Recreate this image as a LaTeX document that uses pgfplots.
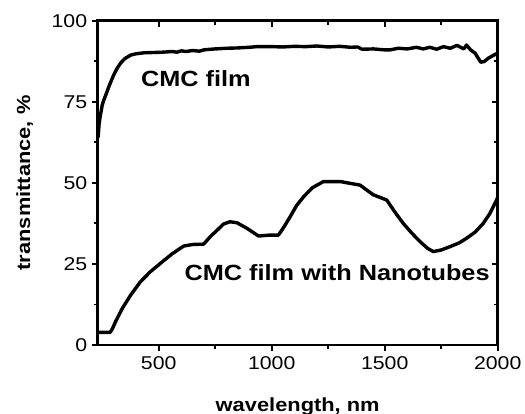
\documentclass[border=0pt]{standalone}
\usepackage{fontspec}
\setmainfont{Liberation Sans}[FakeStretch=1.15]
\usepackage{pgfplots}
\pgfplotsset{compat=1.18}

\begin{document}
\begin{tikzpicture}
\pgfplotsset{
  frame/.style={
    scale only axis, width=400pt, height=324.3pt,
    xmin=230, xmax=2000, ymin=0, ymax=100,
    xtick={500,1000,1500,2000}, ytick={0,25,50,75,100},
    minor x tick num=1, minor y tick num=1,
    major tick length=6pt, minor tick length=4pt,
    every tick/.style={black, line width=2pt},
    every minor tick/.style={black, line width=1.8pt},
    axis line style={line width=2.8pt},
    /pgf/number format/assume math mode=true,
    /pgf/number format/1000 sep={},
    tick label style={font=\fontsize{18.5}{20}\selectfont},
  }
}
\begin{axis}[frame,
    tick pos=left, tick align=outside,
    xticklabel style={yshift=-2pt},
    yticklabel style={xshift=-1pt},
    xlabel={\bfseries wavelength, nm},
    ylabel={\bfseries transmittance, \%},
    xlabel style={font=\fontsize{19}{21}\selectfont, at={(0.5,0)}, anchor=base, yshift=-66pt},
    ylabel style={font=\fontsize{19}{21}\selectfont, at={(0,0.5)}, anchor=center, yshift=73pt},
]
\addplot[black, line width=3.4pt, line join=round] coordinates {
(232,64)(236,68)(240,70)(245,72)(250,74)(257,75.5)(268,77.5)(279,79.6)
(290,81.5)(301,83.3)(315,85.2)(331,86.9)(350,88.3)(376,89.4)(400,89.8)
(434,90.1)(480,90.2)(520,90.3)(560,90.5)(580,90.3)(600,90.7)(620,90.5)
(650,90.8)(680,90.6)(700,91.0)(713,91.1)(750,91.3)(800,91.5)(850,91.6)
(900,91.8)(934,92.0)(1000,92.0)(1050,91.9)(1100,92.1)(1150,92.0)(1200,92.2)
(1250,91.9)(1300,92.1)(1350,91.8)(1380,91.9)(1400,91.2)(1450,91.3)(1500,91.0)
(1523,91.0)(1560,91.5)(1600,91.3)(1640,91.8)(1670,91.3)(1700,91.8)(1730,91.2)
(1760,92.0)(1790,91.5)(1820,92.4)(1850,91.3)(1862,92.5)(1880,91.0)(1900,90.0)
(1915,88.3)(1925,87.2)(1940,87.4)(1960,88.5)(1980,89.3)(2000,90.0)
};
\addplot[black, line width=3.4pt, line join=round] coordinates {
(232,3.9)(285,3.9)(295,5.0)(309,7.2)(339,11.3)(376,15.4)(419,19.5)(463,22.6)
(508,25.2)(559,28.1)(610,30.5)(650,31.0)(699,31.1)(728,33.4)(760,35.5)
(787,37.3)(815,38.0)(846,37.7)(890,36.0)(942,33.6)(993,33.9)(1030,33.9)
(1055,36.5)(1082,39.6)(1110,43.0)(1141,45.7)(1180,48.5)(1229,50.4)(1303,50.4)
(1391,49.3)(1420,47.8)(1450,46.3)(1509,44.7)(1545,41.0)(1582,37.5)(1620,34.5)
(1656,31.9)(1690,29.8)(1715,28.8)(1750,29.3)(1788,30.3)(1830,31.5)(1862,32.9)
(1900,34.8)(1936,37.5)(1965,40.5)(1988,43.7)(2000,45.5)
};
\node[anchor=base west, font=\fontsize{22}{24}\selectfont\bfseries] at (axis cs:406,79.6) {CMC film};
\node[anchor=base west, font=\fontsize{22}{24}\selectfont\bfseries] at (axis cs:599,20.0) {CMC film with Nanotubes};
\end{axis}
\begin{axis}[frame,
    tick pos=right, tick align=inside,
    xticklabels={}, yticklabels={},
]
\end{axis}
\pgfresetboundingbox
\useasboundingbox (-97.7pt,-68pt) rectangle (427.3pt,345pt);
\end{tikzpicture}
\end{document}
